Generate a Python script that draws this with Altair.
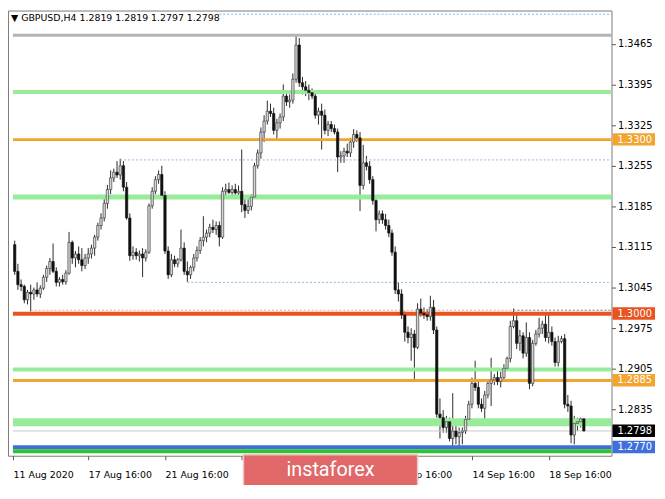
import altair as alt
import pandas as pd

# ---------------- data ----------------
opens = [1.3119, 1.3073, 1.3050, 1.3047, 1.3024, 1.3037, 1.3034, 1.3041, 1.3034, 1.3044,
         1.3063, 1.3078, 1.3090, 1.3073, 1.3054, 1.3059, 1.3055, 1.3070, 1.3123, 1.3096,
         1.3103, 1.3093, 1.3083, 1.3096, 1.3103, 1.3113, 1.3132, 1.3152, 1.3165, 1.3190,
         1.3214, 1.3234, 1.3244, 1.3239, 1.3255, 1.3218, 1.3165, 1.3100, 1.3106, 1.3100,
         1.3103, 1.3096, 1.3106, 1.3186, 1.3211, 1.3231, 1.3240, 1.3204, 1.3108, 1.3067,
         1.3093, 1.3086, 1.3093, 1.3113, 1.3073, 1.3067, 1.3080, 1.3096, 1.3109, 1.3126,
         1.3132, 1.3139, 1.3149, 1.3145, 1.3152, 1.3132, 1.3211, 1.3214, 1.3209, 1.3214,
         1.3208, 1.3211, 1.3188, 1.3178, 1.3185, 1.3201, 1.3255, 1.3277, 1.3313, 1.3332,
         1.3349, 1.3345, 1.3316, 1.3329, 1.3339, 1.3375, 1.3365, 1.3368, 1.3404, 1.3463,
         1.3398, 1.3391, 1.3385, 1.3381, 1.3375, 1.3342, 1.3349, 1.3342, 1.3316, 1.3326,
         1.3319, 1.3313, 1.3270, 1.3272, 1.3280, 1.3277, 1.3296, 1.3309, 1.3303, 1.3221,
         1.3260, 1.3254, 1.3231, 1.3195, 1.3162, 1.3172, 1.3162, 1.3152, 1.3139, 1.3106,
         1.3041, 1.3034, 1.2998, 1.2968, 1.2959, 1.2965, 1.2942, 1.3008, 1.3001, 1.2998,
         1.2995, 1.3011, 1.2972, 1.2827, 1.2821, 1.2804, 1.2814, 1.2785, 1.2798, 1.2788,
         1.2795, 1.2798, 1.2818, 1.2844, 1.2880, 1.2873, 1.2844, 1.2837, 1.2860, 1.2880,
         1.2886, 1.2890, 1.2883, 1.2890, 1.2906, 1.2923, 1.2978, 1.2988, 1.2949, 1.2962,
         1.2932, 1.2959, 1.2880, 1.2949, 1.2965, 1.2975, 1.2982, 1.2959, 1.2968, 1.2952,
         1.2916, 1.2952, 1.2957, 1.2844, 1.2841, 1.2791, 1.2811, 1.2814, 1.2819]
highs = [1.3126, 1.3086, 1.3059, 1.3050, 1.3041, 1.3050, 1.3045, 1.3054, 1.3049, 1.3067,
         1.3083, 1.3096, 1.3121, 1.3080, 1.3063, 1.3067, 1.3075, 1.3141, 1.3126, 1.3108,
         1.3116, 1.3113, 1.3103, 1.3113, 1.3119, 1.3136, 1.3157, 1.3173, 1.3198, 1.3222,
         1.3247, 1.3250, 1.3263, 1.3267, 1.3263, 1.3227, 1.3173, 1.3116, 1.3113, 1.3109,
         1.3113, 1.3111, 1.3190, 1.3218, 1.3237, 1.3247, 1.3255, 1.3211, 1.3116, 1.3103,
         1.3100, 1.3096, 1.3145, 1.3123, 1.3090, 1.3083, 1.3103, 1.3116, 1.3132, 1.3168,
         1.3145, 1.3155, 1.3162, 1.3159, 1.3159, 1.3218, 1.3224, 1.3226, 1.3221, 1.3224,
         1.3221, 1.3283, 1.3204, 1.3198, 1.3206, 1.3260, 1.3283, 1.3321, 1.3342, 1.3367,
         1.3362, 1.3355, 1.3336, 1.3345, 1.3395, 1.3385, 1.3378, 1.3414, 1.3481, 1.3475,
         1.3408, 1.3401, 1.3395, 1.3388, 1.3381, 1.3355, 1.3362, 1.3352, 1.3332, 1.3332,
         1.3326, 1.3319, 1.3280, 1.3286, 1.3293, 1.3303, 1.3318, 1.3316, 1.3313, 1.3291,
         1.3272, 1.3263, 1.3237, 1.3204, 1.3178, 1.3178, 1.3172, 1.3162, 1.3145, 1.3116,
         1.3054, 1.3042, 1.3004, 1.2978, 1.2975, 1.2972, 1.3018, 1.3026, 1.3011, 1.3008,
         1.3031, 1.3024, 1.2978, 1.2854, 1.2834, 1.2824, 1.2821, 1.2863, 1.2811, 1.2804,
         1.2804, 1.2824, 1.2850, 1.2890, 1.2919, 1.2883, 1.2854, 1.2867, 1.2886, 1.2924,
         1.2896, 1.2906, 1.2900, 1.2913, 1.2926, 1.2988, 1.3009, 1.3001, 1.2972, 1.2968,
         1.2985, 1.2968, 1.2955, 1.2972, 1.2993, 1.2988, 1.2998, 1.2998, 1.2978, 1.2959,
         1.2962, 1.2962, 1.2965, 1.2860, 1.2850, 1.2824, 1.2821, 1.2821, 1.2819]
lows = [1.3067, 1.3041, 1.3039, 1.3018, 1.3016, 1.3004, 1.3024, 1.3029, 1.3027, 1.3041,
        1.3055, 1.3067, 1.3070, 1.3047, 1.3047, 1.3050, 1.3050, 1.3067, 1.3086, 1.3080,
        1.3086, 1.3073, 1.3077, 1.3086, 1.3095, 1.3100, 1.3126, 1.3145, 1.3159, 1.3181,
        1.3206, 1.3227, 1.3234, 1.3231, 1.3211, 1.3162, 1.3091, 1.3093, 1.3093, 1.3090,
        1.3063, 1.3090, 1.3103, 1.3181, 1.3206, 1.3224, 1.3198, 1.3103, 1.3060, 1.3063,
        1.3080, 1.3080, 1.3090, 1.3067, 1.3055, 1.3060, 1.3073, 1.3090, 1.3103, 1.3116,
        1.3123, 1.3132, 1.3139, 1.3136, 1.3116, 1.3129, 1.3204, 1.3206, 1.3201, 1.3204,
        1.3198, 1.3175, 1.3165, 1.3172, 1.3178, 1.3198, 1.3250, 1.3267, 1.3296, 1.3326,
        1.3339, 1.3309, 1.3301, 1.3319, 1.3332, 1.3358, 1.3355, 1.3362, 1.3398, 1.3391,
        1.3378, 1.3375, 1.3368, 1.3370, 1.3336, 1.3326, 1.3283, 1.3309, 1.3306, 1.3313,
        1.3309, 1.3244, 1.3260, 1.3260, 1.3270, 1.3270, 1.3286, 1.3296, 1.3177, 1.3214,
        1.3247, 1.3224, 1.3188, 1.3142, 1.3155, 1.3155, 1.3145, 1.3132, 1.3100, 1.3034,
        1.3021, 1.2991, 1.2952, 1.2949, 1.2919, 1.2886, 1.2939, 1.2995, 1.2991, 1.2988,
        1.2988, 1.2965, 1.2821, 1.2785, 1.2795, 1.2795, 1.2780, 1.2767, 1.2775, 1.2768,
        1.2775, 1.2793, 1.2811, 1.2837, 1.2867, 1.2837, 1.2831, 1.2816, 1.2854, 1.2841,
        1.2877, 1.2877, 1.2873, 1.2883, 1.2903, 1.2916, 1.2975, 1.2939, 1.2936, 1.2923,
        1.2926, 1.2870, 1.2875, 1.2945, 1.2959, 1.2965, 1.2952, 1.2949, 1.2945, 1.2909,
        1.2909, 1.2949, 1.2837, 1.2831, 1.2777, 1.2775, 1.2798, 1.2804, 1.2797]
closes = [1.3073, 1.3050, 1.3047, 1.3024, 1.3037, 1.3034, 1.3041, 1.3034, 1.3044, 1.3063,
          1.3078, 1.3090, 1.3073, 1.3054, 1.3059, 1.3055, 1.3070, 1.3123, 1.3096, 1.3103,
          1.3093, 1.3083, 1.3096, 1.3103, 1.3113, 1.3132, 1.3152, 1.3165, 1.3190, 1.3214,
          1.3234, 1.3244, 1.3239, 1.3255, 1.3218, 1.3165, 1.3100, 1.3106, 1.3100, 1.3103,
          1.3096, 1.3106, 1.3186, 1.3211, 1.3231, 1.3240, 1.3204, 1.3108, 1.3067, 1.3093,
          1.3086, 1.3093, 1.3113, 1.3073, 1.3067, 1.3080, 1.3096, 1.3109, 1.3126, 1.3132,
          1.3139, 1.3149, 1.3145, 1.3152, 1.3132, 1.3211, 1.3214, 1.3209, 1.3214, 1.3208,
          1.3211, 1.3188, 1.3178, 1.3185, 1.3201, 1.3255, 1.3277, 1.3313, 1.3332, 1.3349,
          1.3345, 1.3316, 1.3329, 1.3339, 1.3375, 1.3365, 1.3368, 1.3404, 1.3463, 1.3398,
          1.3391, 1.3385, 1.3381, 1.3375, 1.3342, 1.3349, 1.3342, 1.3316, 1.3326, 1.3319,
          1.3313, 1.3270, 1.3272, 1.3280, 1.3277, 1.3296, 1.3309, 1.3303, 1.3221, 1.3260,
          1.3254, 1.3231, 1.3195, 1.3162, 1.3172, 1.3162, 1.3152, 1.3139, 1.3106, 1.3041,
          1.3034, 1.2998, 1.2968, 1.2959, 1.2965, 1.2942, 1.3008, 1.3001, 1.2998, 1.2995,
          1.3011, 1.2972, 1.2827, 1.2821, 1.2804, 1.2814, 1.2785, 1.2798, 1.2788, 1.2795,
          1.2798, 1.2818, 1.2844, 1.2880, 1.2873, 1.2844, 1.2837, 1.2860, 1.2880, 1.2886,
          1.2890, 1.2883, 1.2890, 1.2906, 1.2923, 1.2978, 1.2988, 1.2949, 1.2962, 1.2932,
          1.2959, 1.2880, 1.2949, 1.2965, 1.2975, 1.2982, 1.2959, 1.2968, 1.2952, 1.2916,
          1.2952, 1.2957, 1.2844, 1.2841, 1.2791, 1.2811, 1.2814, 1.2819, 1.2798]

# axis ticks; the two labels that sit fully under the watermark are not visible in the reference
x_tick_pos = [-0.5, 23, 47, 71, 95, 119, 143, 167]
x_tick_labels = ["11 Aug 2020", "17 Aug 16:00", "21 Aug 16:00", "", "", "8 Sep 16:00",
                 "14 Sep 16:00", "18 Sep 16:00"]
y_tick_values = [1.2835, 1.2905, 1.2975, 1.3045, 1.3115, 1.3185, 1.3255, 1.3325, 1.3395, 1.3465]

level_names = ["top_dotted", "gray_top", "green_1", "orange_1", "dotted_1", "green_2",
               "dotted_2", "dotted_salmon", "dotted_3", "red", "green_3", "orange_2",
               "green_band", "current", "blue", "green_bottom"]
level_prices = [1.3516, 1.3480, 1.3382, 1.3300, 1.3265, 1.3201,
                1.3054, 1.3006, 1.3006, 1.3000, 1.2904, 1.2885,
                1.2813, 1.2798, 1.2770, 1.2763]
level_starts = [64, -0.55, -0.55, -0.55, 33, -0.55,
                54, 5, 156, -0.55, -0.55, -0.55,
                -0.55, -0.55, -0.55, -0.55]

box_prices = [1.3300, 1.3000, 1.2885, 1.2798, 1.2770]
box_labels = ["1.3300", "1.3000", "1.2885", "1.2798", "1.2770"]

header_text = "▼ GBPUSD,H4  1.2819 1.2819 1.2797 1.2798"
watermark_text = "instaforex"

# ---------------- styles / layout ----------------
W, H = 610, 450
X_DOMAIN = [-0.55, 185.1]
Y_DOMAIN = [1.27553, 1.35224]

level_style = {
    "top_dotted": ("#86b7e6", 1, [2, 2]),
    "gray_top": ("#b4b4b4", 3, None),
    "green_1": ("#98eb98", 4, None),
    "orange_1": ("#f3a42f", 3, None),
    "dotted_1": ("#86b7e6", 1, [2, 2]),
    "green_2": ("#98eb98", 5, None),
    "dotted_2": ("#86b7e6", 1, [2, 2]),
    "dotted_salmon": ("#e0a8a0", 1, [2, 2]),
    "dotted_3": ("#6f9fdc", 1, [2, 2]),
    "red": ("#e8531f", 4, None),
    "green_3": ("#98eb98", 4, None),
    "orange_2": ("#f3a42f", 3, None),
    "green_band": ("#98eb98", 8, None),
    "current": ("#c8c8c8", 1, None),
    "blue": ("#3f6fd9", 4, None),
    "green_bottom": ("#2fc42f", 4, None),
}
box_colors = ["#f3a42f", "#e8531f", "#f3a42f", "#000000", "#3f6fd9"]

xs = alt.Scale(domain=X_DOMAIN, nice=False, zero=False)
ys = alt.Scale(domain=Y_DOMAIN, nice=False, zero=False)

label_expr = " : ".join(
    f"datum.value == {p} ? '{l}'" for p, l in zip(x_tick_pos, x_tick_labels)
) + " : ''"

x_axis = alt.Axis(values=x_tick_pos, labelExpr=label_expr, orient="bottom", tickSize=4,
                  tickColor="#555555", labelAlign="left", labelBaseline="top",
                  labelPadding=10, labelFont="DejaVu Sans", labelFontSize=9.5,
                  labelColor="#000000", domain=False, grid=False, labelOverlap=False,
                  labelFlush=False, title=None)
y_axis = alt.Axis(values=y_tick_values, format=".4f", orient="right", tickSize=4,
                  tickColor="#555555", labelPadding=2, labelFont="DejaVu Sans",
                  labelFontSize=10, labelColor="#000000", domain=False, grid=False,
                  labelOverlap=False, labelFlush=False, title=None)


def X(field):
    return alt.X(field, scale=xs, axis=x_axis, title=None)


def Y(field):
    return alt.Y(field, scale=ys, axis=y_axis, title=None)


candles = pd.DataFrame({"i": list(range(len(opens))), "open": opens, "high": highs,
                        "low": lows, "close": closes})

level_layers = []
for name, price, start in zip(level_names, level_prices, level_starts):
    color, width, dash = level_style[name]
    mk = dict(color=color, strokeWidth=width)
    if dash:
        mk["strokeDash"] = dash
    level_layers.append(
        alt.Chart(pd.DataFrame({"p": [price], "s": [start]}))
        .mark_rule(**mk)
        .encode(x=X("s:Q"), x2=alt.value(W), y=Y("p:Q"))
    )

base = alt.Chart(candles)
wicks = base.mark_rule(color="#2a2a2a", strokeWidth=1).encode(
    x=X("i:Q"), y=Y("low:Q"), y2="high:Q")
bull = base.transform_filter("datum.close >= datum.open").mark_bar(
    size=2.4, fill="#d4d4d4", stroke="#2a2a2a", strokeWidth=0.6
).encode(x=X("i:Q"), y=Y("open:Q"), y2="close:Q")
bear = base.transform_filter("datum.close < datum.open").mark_bar(
    size=2.4, fill="#111111", stroke="#111111", strokeWidth=0.6
).encode(x=X("i:Q"), y=Y("open:Q"), y2="close:Q")

boxes_df = pd.DataFrame({"p": box_prices, "label": box_labels})
boxes = alt.Chart(boxes_df).mark_rect(yOffset=-6.5, y2Offset=6).encode(
    x=alt.value(W + 1), x2=alt.value(W + 44),
    y=Y("p:Q"), y2="p:Q",
    fill=alt.Fill("label:N", scale=alt.Scale(domain=box_labels, range=box_colors), legend=None),
)
box_text = alt.Chart(boxes_df).mark_text(
    align="left", baseline="middle", font="DejaVu Sans", fontSize=10, color="white"
).encode(x=alt.value(W + 6), y=Y("p:Q"), text="label:N")

one = pd.DataFrame({"t": [header_text], "w": [watermark_text]})
header = alt.Chart(one).mark_text(
    align="left", baseline="middle", font="DejaVu Sans", fontSize=9.5, color="#000000"
).encode(x=alt.value(3), y=alt.value(8), text="t:N")
wm_box = alt.Chart(one).mark_rect(fill="#e06868", stroke="#f2c4c4", strokeWidth=1.5).encode(
    x=alt.value(238), x2=alt.value(414), y=alt.value(449), y2=alt.value(481))
wm_text = alt.Chart(one).mark_text(
    align="center", baseline="middle", font="Roboto", fontSize=20, color="white"
).encode(x=alt.value(326), y=alt.value(464), text="w:N")

chart = alt.layer(wicks, *level_layers, bull, bear, boxes, box_text, header,
                  wm_box, wm_text).properties(
    width=W, height=H,
    padding={"left": 0, "top": 0, "right": 46, "bottom": 27},
    autosize=alt.AutoSizeParams(type="none"),
    background="white",
).configure_view(stroke="#7a7a7a", strokeWidth=1)

chart.save("out.html", embed_options={"renderer": "svg", "actions": False})
